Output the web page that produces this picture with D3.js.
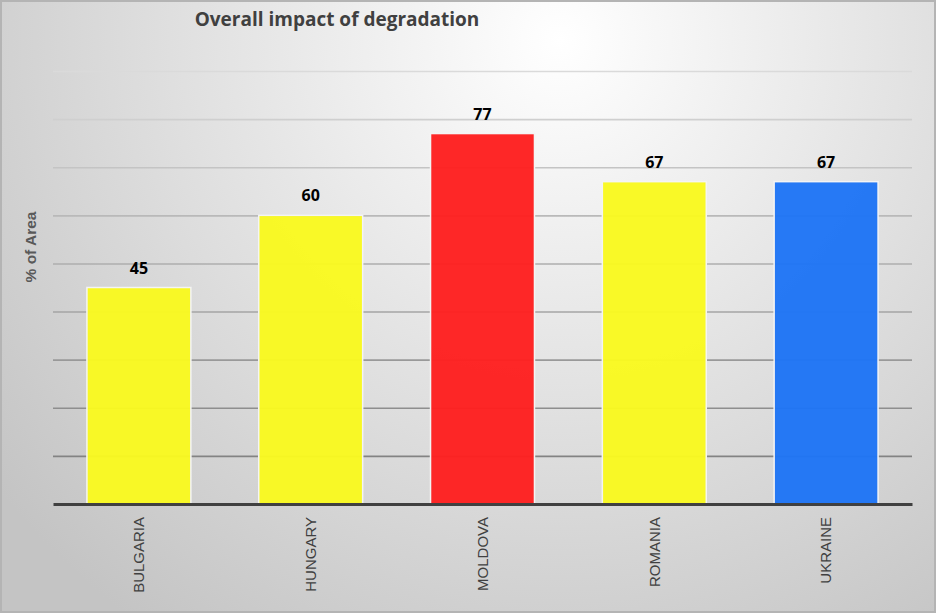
<!DOCTYPE html>
<html>
<head>
<meta charset="utf-8">
<script src="https://cdn.jsdelivr.net/npm/d3@7"></script>
<style>
  html, body { margin: 0; padding: 0; background: #fff; }
  svg { display: block; }
</style>
</head>
<body>
<script>
// chart data
const countries = ["BULGARIA", "HUNGARY", "MOLDOVA", "ROMANIA", "UKRAINE"];
const impact = [45, 60, 77, 67, 67];
const barColors = ["#f9f920", "#f9f920", "#fe2020", "#f9f920", "#1f75f5"];
const gridTicks = [10, 20, 30, 40, 50, 60, 70, 80, 90];

const width = 936, height = 613;
const margin = { top: 71, right: 24, bottom: 109, left: 53 };
const chartWidth = width - margin.left - margin.right;
const chartHeight = height - margin.top - margin.bottom;

const svg = d3.select("body")
    .append("svg")
    .attr("width", width)
    .attr("height", height);

// background gradient, light at the top centre, grey at the corners
const defs = svg.append("defs");
const bg = defs.append("radialGradient")
    .attr("id", "bg")
    .attr("gradientUnits", "userSpaceOnUse")
    .attr("cx", 560).attr("cy", 40).attr("r", 720);
bg.append("stop").attr("offset", "0%").attr("stop-color", "#ffffff");
bg.append("stop").attr("offset", "100%").attr("stop-color", "#c4c4c4");

svg.append("rect")
    .attr("width", width)
    .attr("height", height)
    .attr("fill", "url(#bg)");

// outer frame
svg.append("rect")
    .attr("x", 0.5).attr("y", 0.5)
    .attr("width", width - 1).attr("height", height - 1)
    .attr("fill", "none")
    .attr("stroke", "#b4b4b4")
    .attr("stroke-width", 3);

const g = svg.append("g")
    .attr("transform", `translate(${margin.left},${margin.top})`);

const x = d3.scaleBand()
    .domain(countries)
    .range([0, chartWidth])
    .paddingInner(0.395)
    .paddingOuter(0.1975);

const y = d3.scaleLinear()
    .domain([0, 90])
    .range([chartHeight, 0]);

// gridlines fade out towards the top
const gridColor = d3.scaleLinear()
    .domain([0, 90])
    .range(["#787878", "#dadada"]);

g.append("g")
    .attr("class", "grid")
    .call(d3.axisLeft(y).tickValues(gridTicks).tickSize(-chartWidth).tickFormat(""))
    .call(s => s.select(".domain").remove())
    .call(s => s.selectAll(".tick line")
        .attr("stroke", d => gridColor(d))
        .attr("stroke-width", 1.6));

// bars
g.selectAll(".bar")
    .data(countries)
    .join("rect")
    .attr("class", "bar")
    .attr("x", d => x(d))
    .attr("y", (d, i) => y(impact[i]))
    .attr("width", x.bandwidth())
    .attr("height", (d, i) => chartHeight - y(impact[i]))
    .attr("fill", (d, i) => barColors[i])
    .attr("fill-opacity", 0.97)
    .attr("stroke", "#f4f4f4")
    .attr("stroke-width", 1.5);

// value labels
g.selectAll(".value")
    .data(countries)
    .join("text")
    .attr("class", "value")
    .attr("x", d => x(d) + x.bandwidth() / 2)
    .attr("y", (d, i) => y(impact[i]) - 14)
    .attr("text-anchor", "middle")
    .style("font-family", "'Open Sans', sans-serif")
    .style("font-weight", "bold")
    .style("font-size", "16px")
    .style("fill", "#000")
    .text((d, i) => impact[i]);

// X axis
const xAxis = g.append("g")
    .attr("transform", `translate(0,${chartHeight})`)
    .call(d3.axisBottom(x).tickSize(0).tickPadding(0));
xAxis.select(".domain")
    .attr("stroke", "#404040")
    .attr("stroke-width", 3);
xAxis.selectAll("text")
    .attr("transform", "rotate(-90)")
    .attr("text-anchor", "end")
    .attr("x", -13)
    .attr("y", 0)
    .attr("dy", "0.35em")
    .style("font-family", "'Liberation Sans', Arial, sans-serif")
    .style("font-size", "15px")
    .style("fill", "#404040");

// Y axis label
svg.append("text")
    .attr("transform", "rotate(-90)")
    .attr("x", -247)
    .attr("y", 36)
    .attr("text-anchor", "middle")
    .style("font-family", "'Liberation Sans', Arial, sans-serif")
    .style("font-weight", "bold")
    .style("font-size", "15.5px")
    .style("fill", "#595959")
    .text("% of Area");

// title
svg.append("text")
    .attr("x", 337)
    .attr("y", 26)
    .attr("text-anchor", "middle")
    .style("font-family", "'Open Sans', sans-serif")
    .style("font-weight", "bold")
    .style("font-size", "19px")
    .style("fill", "#404040")
    .text("Overall impact of degradation");
</script>
</body>
</html>
